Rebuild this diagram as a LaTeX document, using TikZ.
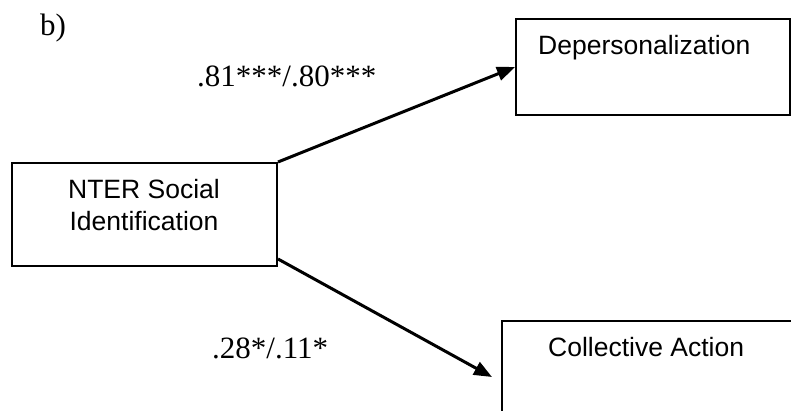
\documentclass[tikz,border=0pt]{standalone}
\usepackage{fontspec}
\setmainfont{Liberation Serif}
\newfontfamily\boxfont{Liberation Sans}
\usetikzlibrary{arrows.meta}

\tikzset{
  varbox/.style={draw, line width=2pt, rectangle, inner sep=0pt},
  boxtext/.style={inner sep=0pt, font=\boxfont\fontsize{26.5}{32}\selectfont},
  coef/.style={inner sep=0pt, font=\fontsize{31}{36}\selectfont},
  path/.style={line width=3pt, -{Triangle[length=18pt,width=14pt]}}
}

\begin{document}
\begin{tikzpicture}[x=1pt, y=-1pt]
  \useasboundingbox (0,0) rectangle (791,411);
  \clip (0,0) rectangle (791,411);

  % panel letter
  \node[coef, anchor=base west] (panel) at (40,36) {b)};

  % variable boxes
  \node[varbox, minimum width=265pt, minimum height=103pt] (nter) at (144.5,214.5) {};
  \node[varbox, minimum width=274pt, minimum height=96pt] (dep) at (653,67) {};
  \node[varbox, minimum width=292pt, minimum height=110pt] (coll) at (648,376) {};

  % box labels (base anchor sits on the last line)
  \node[boxtext, anchor=base, align=center] (ntertext) at (144,231) {NTER Social\\Identification};
  \node[boxtext, anchor=base west] (deptext) at (538,55) {Depersonalization};
  \node[boxtext, anchor=base west] (colltext) at (548,356) {Collective Action};

  % end of the path into Collective Action
  \coordinate (collin) at (492,377);

  % structural paths
  \draw[path] (nter.north east) -- (dep.west);
  \draw[path] ([yshift=8pt]nter.south east) -- (collin);

  % path coefficients
  \node[coef, anchor=base west] (c1) at (197,87) {.81***/.80***};
  \node[coef, anchor=base west] (c2) at (212,358) {.28*/.11*};
\end{tikzpicture}
\end{document}
